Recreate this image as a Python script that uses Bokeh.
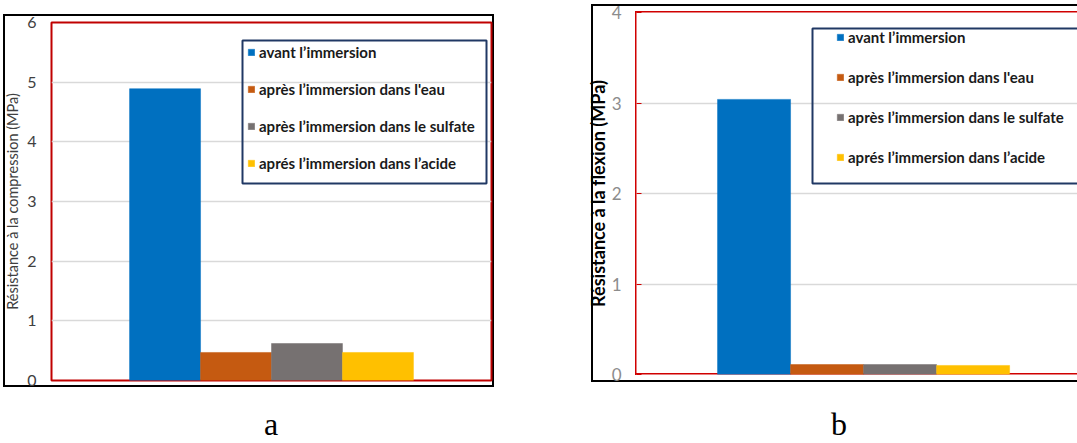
import numpy as np
from bokeh.plotting import figure
from bokeh.models import Range1d, BoxAnnotation, Legend, LegendItem, ColumnDataSource, FixedTicker, Div
from bokeh.core.properties import value
from bokeh.layouts import row, column
from bokeh.embed import file_html
from bokeh.resources import INLINE

# ---- data ----
series_a = ["avant l’immersion", "après l’immersion dans l'eau",
            "après l’immersion dans le sulfate", "aprés l’immersion dans l’acide"]
series_b = ["avant l’immersion", "après l’immersion dans l'eau",
            "après l’immersion dans le sulfate", "aprés l’immersion dans l’acide"]
compression = [4.89, 0.47, 0.62, 0.47]
flexion = [3.04, 0.11, 0.11, 0.10]
yticks_a = [0, 1, 2, 3, 4, 5, 6]
yticks_b = [0, 1, 2, 3, 4]
ylabel_a = "Résistance à la compression (MPa)"
ylabel_b = "Résistance à la flexion (MPa)"
panel_names = ["a", "b"]
colors = ["#0070C0", "#C55A11", "#767171", "#FFC000"]


def css_lines(rects):
    """Chart-area frame lines, painted as CSS backgrounds under the transparent canvas."""
    imgs = ", ".join([f"linear-gradient({c}, {c})" for (_, c) in rects])
    pos = ", ".join([f"{x}px {y}px" for ((x, y, w, h), _) in rects])
    size = ", ".join([f"{w}px {h}px" for ((x, y, w, h), _) in rects])
    return {"background-image": imgs, "background-position": pos,
            "background-size": size, "background-repeat": "no-repeat"}


def box(left, right, top, bottom, color, width):
    return BoxAnnotation(left=left, right=right, top=top, bottom=bottom,
                         left_units="canvas", right_units="canvas",
                         top_units="canvas", bottom_units="canvas",
                         fill_color=None, fill_alpha=0, line_color=color,
                         line_alpha=1, line_width=width, line_dash="solid",
                         level="overlay")


def bars(p, names, vals):
    items = []
    xs = np.arange(len(names))
    for i, (n, v) in enumerate(zip(names, vals)):
        src = ColumnDataSource(dict(x=[xs[i]], top=[v]))
        r = p.vbar(x="x", top="top", width=1.0, source=src,
                   fill_color=colors[i], line_color=colors[i], line_width=0.5)
        items.append(LegendItem(label=value(n), renderers=[r]))
    return items


def caption(txt, width, indent):
    return Div(text=txt, width=width, height=37, margin=0,
               styles={"font-family": "Liberation Serif", "font-size": "32px",
                       "line-height": "37px", "text-align": "left",
                       "text-indent": f"{indent}px", "color": "black",
                       "margin": "0", "padding": "0"})


blk = "#000000"
red = "#D00000"

# ---- panel a ----
pa = figure(width=540, height=406, x_range=Range1d(-1.6, 4.6), y_range=Range1d(0, 6),
            x_axis_location=None, output_backend="svg", toolbar_location=None,
            min_border_left=51, min_border_right=49, min_border_top=22, min_border_bottom=26,
            margin=0,
            styles=css_lines([((3, 14, 2, 373), blk), ((492, 14, 2, 373), blk),
                              ((3, 14, 491, 2), blk), ((3, 385, 491, 2), blk)]))
pa.border_fill_alpha = 0
pa.background_fill_color = "white"
pa.xgrid.visible = False
pa.ygrid.grid_line_color = "#d9d9d9"
pa.ygrid.grid_line_width = 1.5
pa.outline_line_color = "#C00000"
pa.outline_line_width = 2
pa.yaxis.ticker = FixedTicker(ticks=yticks_a)
pa.yaxis.axis_line_color = None
pa.yaxis.major_tick_line_color = None
pa.yaxis.major_tick_out = 0
pa.yaxis.major_tick_in = 0
pa.yaxis.minor_tick_line_color = None
pa.yaxis.major_label_standoff = 15
pa.yaxis.major_label_text_font = "Lato"
pa.yaxis.major_label_text_font_size = "16px"
pa.yaxis.major_label_text_color = "#404040"
pa.yaxis.axis_label = ylabel_a
pa.yaxis.axis_label_standoff = 3
pa.yaxis.axis_label_text_font = "Lato"
pa.yaxis.axis_label_text_font_style = "normal"
pa.yaxis.axis_label_text_font_size = "14.5px"
pa.yaxis.axis_label_text_color = "#404040"

items_a = bars(pa, series_a, compression)
leg_a = Legend(items=items_a, location=(196, 207), padding=0, spacing=17, margin=0,
               glyph_width=8, glyph_height=8, label_standoff=4, label_height=20,
               border_line_color=None, background_fill_alpha=0,
               label_text_font="Lato", label_text_font_style="bold",
               label_text_font_size="15px", label_text_color="#1a1a1a")
pa.add_layout(leg_a)
pa.add_layout(box(242, 486, 40, 183, "#203864", 2))

# ---- panel b ----
pb = figure(width=537, height=406, x_range=Range1d(-1.61, 4.43), y_range=Range1d(0, 4),
            x_axis_location=None, output_backend="svg", toolbar_location=None,
            min_border_left=96, min_border_right=0, min_border_top=12, min_border_bottom=32,
            margin=0,
            styles=css_lines([((51, 4, 2, 378), blk), ((51, 4, 486, 2), blk),
                              ((51, 380, 486, 2), blk),
                              ((95, 11, 1.5, 364), red), ((95, 11, 442, 1.5), red),
                              ((95, 373, 442, 1.5), red)]))
pb.border_fill_alpha = 0
pb.background_fill_alpha = 0
pb.xgrid.visible = False
pb.ygrid.grid_line_color = "#d9d9d9"
pb.ygrid.grid_line_width = 1.5
pb.outline_line_color = None
pb.yaxis.ticker = FixedTicker(ticks=yticks_b)
pb.yaxis.axis_line_color = None
pb.yaxis.major_tick_line_color = red
pb.yaxis.major_tick_in = 5
pb.yaxis.major_tick_out = 0
pb.yaxis.minor_tick_line_color = None
pb.yaxis.major_label_standoff = 15
pb.yaxis.major_label_text_font = "Lato"
pb.yaxis.major_label_text_font_size = "17px"
pb.yaxis.major_label_text_color = "#8c8c8c"
pb.yaxis.axis_label = ylabel_b
pb.yaxis.axis_label_standoff = 0
pb.yaxis.axis_label_text_font = "Lato"
pb.yaxis.axis_label_text_font_style = "bold"
pb.yaxis.axis_label_text_font_size = "18px"
pb.yaxis.axis_label_text_color = "black"

items_b = bars(pb, series_b, flexion)
leg_b = Legend(items=items_b, location=(200, 207), padding=0, spacing=20, margin=0,
               glyph_width=8, glyph_height=8, label_standoff=4, label_height=20,
               border_line_color=None, background_fill_alpha=0,
               label_text_font="Lato", label_text_font_style="bold",
               label_text_font_size="15px", label_text_color="#1a1a1a")
pb.add_layout(leg_b)
pb.add_layout(box(272, 600, 28, 183, "#203864", 2))

layout = row(column(pa, caption(panel_names[0], 540, 264), margin=0, spacing=0),
             column(pb, caption(panel_names[1], 537, 291), margin=0, spacing=0),
             margin=0, spacing=0)
open("out.html", "w").write(file_html(layout, INLINE))
